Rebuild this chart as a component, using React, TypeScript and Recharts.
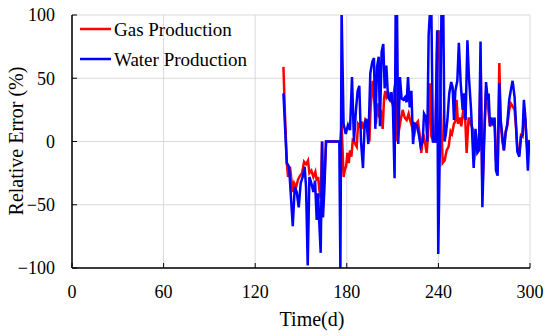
import {
  LineChart,
  Line,
  XAxis,
  YAxis,
  CartesianGrid,
  Legend,
  Label,
} from 'recharts';

const FONT = '"Liberation Serif", "Times New Roman", serif';

// time (d) and relative error (%)
const waterTime = [
  138.5, 140.7, 142.2, 144.6, 145.9, 147.2, 148.5, 149.8, 151.1, 152.4, 153.3, 154.4,
  155.5, 156.8, 158.1, 159.2, 160.3, 161.2, 162.0, 162.9, 163.8, 164.4, 165.3, 166.4,
  175.1, 175.8, 176.6, 177.9, 179.3, 180.8, 182.1, 183.4, 184.7, 186.0, 187.1, 188.2,
  189.3, 190.6, 191.7, 192.8, 194.1, 195.4, 196.7, 197.8, 198.7, 199.8, 200.9, 201.7,
  202.8, 203.9, 204.8, 205.9, 207.0, 208.1, 209.2, 210.2, 211.3, 212.0, 212.9, 213.7,
  214.8, 215.9, 217.0, 218.1, 219.2, 220.1, 221.2, 222.3, 223.4, 224.5, 225.8, 227.1,
  228.4, 229.7, 230.6, 231.9, 232.7, 233.6, 234.5, 235.4, 236.4, 238.0, 239.2, 239.9,
  241.0, 242.0, 243.2, 244.0, 244.9, 245.9, 247.1, 248.4, 249.3, 250.2, 251.1, 252.4,
  253.4, 254.6, 255.9, 256.7, 257.8, 259.0, 260.0, 261.4, 263.1, 264.3, 265.5, 266.6,
  267.6, 268.8, 269.9, 271.2, 272.3, 272.9, 273.8, 274.7, 276.0, 276.8, 277.7, 278.8,
  279.9, 280.8, 281.9, 282.9, 284.0, 285.1, 286.4, 287.5, 288.6, 289.9, 290.8, 291.7,
  293.0, 294.1, 295.1, 296.0, 296.9, 297.8, 298.6, 299.5, 300,
];
const waterError = [
  38, -17, -20, -67, -36, -40, -52, -33, -28, -20, -36, -98,
  -28, -33, -40, -31, -62, -41, -65, -88, 0, -60, -38, 0,
  0, -103, 103, 14, 6, 13, 9, 51, 0, 25, 40, 44,
  0, -21, 14, 18, -2, 54, 63, 66, 10, 59, 67, 12,
  71, 77, 42, 60, 35, 33, 39, 27, -29, 103, 103, -2,
  51, 34, 33, 35, 31, 51, 27, 40, -2, 14, 13, 6,
  -4, 0, 22, 19, 0, 84, 103, 103, 0, 0, 88, -89,
  0, 103, 103, 0, 6, 17, 38, 47, 43, 17, 40, 48,
  78, 46, 25, 38, 17, 80, 51, 25, -21, 10, -9, -7,
  79, -52, -2, 47, 33, 38, 12, 19, 13, 19, -23, -27,
  46, 17, 4, -7, 6, 14, 33, 41, 48, 35, 14, -8,
  -12, 4, 5, 33, 20, -2, -23, 0, 1,
];

const gasTime = [
  138.5, 139.4, 140.7, 141.5, 142.8, 144.6, 145.5, 146.8, 148.1, 149.4, 150.7, 152.0,
  153.3, 154.6, 155.5, 156.8, 158.1, 159.4, 160.3, 161.2, 162.0, 162.9, 163.8, 164.4,
  165.3, 166.4, 175.1, 175.8, 176.6, 177.9, 178.8, 179.5, 180.4, 181.3, 182.1, 183.0,
  183.9, 184.7, 185.6, 186.5, 187.4, 188.7, 189.5, 190.8, 192.1, 193.5, 194.8, 195.6,
  196.9, 198.3, 199.1, 200.0, 201.3, 202.2, 203.5, 204.4, 205.2, 206.1, 207.4, 208.7,
  210.0, 211.5, 213.1, 214.2, 215.3, 216.6, 217.9, 219.2, 220.5, 221.4, 222.7, 224.0,
  225.3, 226.6, 227.9, 228.8, 230.1, 231.4, 232.3, 233.2, 234.5, 235.4, 236.7, 238.0,
  239.3, 240.2, 241.5, 242.8, 244.1, 245.4, 246.7, 248.0, 248.9, 250.2, 251.1, 251.9,
  252.8, 254.1, 255.0, 256.3, 257.6, 258.5, 259.8, 261.1, 262.5, 263.3, 264.4, 265.5,
  266.6, 267.7, 268.8, 269.9, 271.2, 272.3, 273.8, 274.7, 276.0, 276.8, 277.7, 278.8,
  279.9, 280.8, 281.9, 282.9, 284.0, 285.1, 286.4, 287.5, 288.6, 289.9, 290.8, 291.7,
  293.0, 294.1, 295.1, 296.0, 296.9, 297.8, 298.6, 299.5, 300,
];
const gasError = [
  59, 25, -17, -28, -20, -40, -33, -36, -30, -27, -25, -16,
  -18, -15, -25, -23, -28, -24, -31, -28, -38, -45, 0, -40,
  -30, 0, 0, 0, 14, -28, -22, -20, -9, -17, -7, -12,
  1, 0, -2, -4, 14, 12, 16, 10, 17, 14, 0, 27,
  48, 29, 14, 30, 19, 25, 10, 34, 40, 35, 38, 33,
  30, 45, 0, 9, 17, 25, 19, 17, 22, 17, 12, 4,
  14, 16, 4, -9, 6, -2, -9, 4, 46, 4, 0, 0,
  83, 88, 30, -17, -15, -7, -4, 8, 6, 14, 16, 33,
  14, 19, 12, 25, 17, -9, 19, 14, 10, -15, 8, -5,
  -3, 60, -40, 0, 40, 30, 12, 15, 13, 17, -15, -20,
  62, 15, 0, -7, 8, 12, 25, 30, 28, 25, 12, -5,
  -10, 5, 4, 20, 18, 0, -10, 0, 0,
];

const timeTicks = [0, 60, 120, 180, 240, 300];
const errorTicks = [-100, -50, 0, 50, 100];

const series = [
  { key: 'gas', name: 'Gas Production', color: '#ff0000', time: gasTime, values: gasError },
  { key: 'water', name: 'Water Production', color: '#0000ff', time: waterTime, values: waterError },
];

const fmt = (v: number) => String(v).replace('-', '\u2212');
const textStyle = { fontFamily: FONT, fill: '#000' };

function XTick(props: any) {
  const { x, y, payload } = props;
  const axisY = y - 17;
  return (
    <g>
      <line x1={x} x2={x} y1={axisY} y2={axisY - 5} stroke="#000" strokeWidth={1} />
      <text x={x} y={y} dy="0.71em" textAnchor="middle" fontSize={18} style={textStyle}>
        {fmt(payload.value)}
      </text>
    </g>
  );
}

function YTick(props: any) {
  const { x, y, payload } = props;
  const axisX = x + 17;
  return (
    <g>
      <line x1={axisX} x2={axisX + 5} y1={y} y2={y} stroke="#000" strokeWidth={1} />
      <text x={x} y={y} dy="0.355em" textAnchor="end" fontSize={18} style={textStyle}>
        {fmt(payload.value)}
      </text>
    </g>
  );
}

function renderLegend() {
  return (
    <div style={{ fontFamily: FONT, fontSize: 19, color: '#000', lineHeight: 1 }}>
      {series.map((s) => (
        <div key={s.key} style={{ display: 'flex', alignItems: 'center', height: 30 }}>
          <svg width={34} height={4}>
            <line x1={0} x2={31} y1={2} y2={2} stroke={s.color} strokeWidth={2.5} />
          </svg>
          <span style={{ whiteSpace: 'nowrap' }}>{s.name}</span>
        </div>
      ))}
    </div>
  );
}

export default function App() {
  return (
    <div style={{ position: 'absolute', left: 0, top: 0, width: 550, height: 336, background: '#fff' }}>
      <LineChart width={550} height={336} margin={{ top: 15, right: 20, bottom: 28, left: 0 }}>
        <CartesianGrid stroke="#d9d9d9" strokeWidth={1} />
        <XAxis
          type="number"
          dataKey="t"
          domain={[0, 300]}
          ticks={timeTicks}
          height={40}
          tickSize={0}
          tickMargin={17}
          tick={<XTick />}
          axisLine={{ stroke: '#000', strokeWidth: 1.5 }}
          allowDataOverflow
        >
          <Label
            content={() => (
              <text x={312} y={326} textAnchor="middle" fontSize={20} style={textStyle}>
                Time(d)
              </text>
            )}
          />
        </XAxis>
        <YAxis
          type="number"
          domain={[-100, 100]}
          ticks={errorTicks}
          width={72}
          tickSize={0}
          tickMargin={17}
          tick={<YTick />}
          axisLine={{ stroke: '#000', strokeWidth: 1.5 }}
          allowDataOverflow
        >
          <Label
            content={() => (
              <text
                x={16}
                y={141}
                transform="rotate(-90 16 141)"
                dy="0.35em"
                textAnchor="middle"
                fontSize={20}
                style={textStyle}
              >
                Relative Error (%)
              </text>
            )}
          />
        </YAxis>
        <Legend
          layout="vertical"
          align="center"
          verticalAlign="middle"
          content={renderLegend}
          wrapperStyle={{ left: 80, top: 14, width: 'auto' }}
        />
        {series.map((s) => (
          <Line
            key={s.key}
            data={s.time.map((t, i) => ({ t, v: s.values[i] }))}
            dataKey="v"
            name={s.name}
            type="linear"
            stroke={s.color}
            strokeWidth={2.5}
            dot={false}
            activeDot={false}
            isAnimationActive={false}
          />
        ))}
      </LineChart>
    </div>
  );
}
